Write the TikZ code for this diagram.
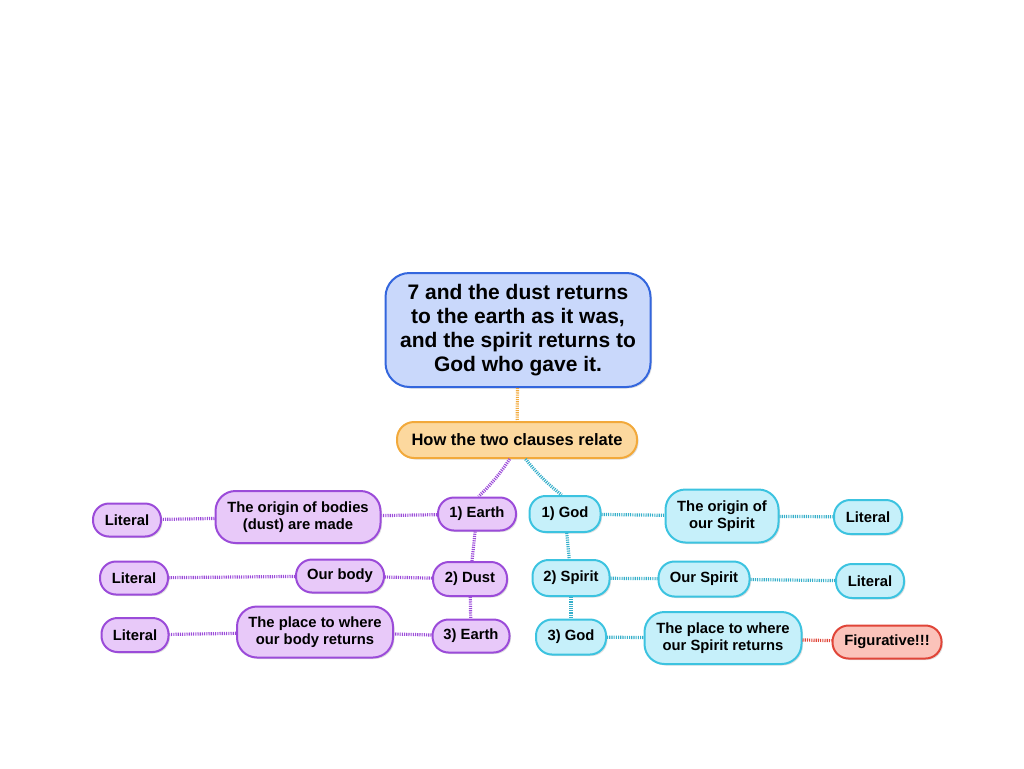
\documentclass[tikz,border=0pt]{standalone}
\usepackage{fontspec}
\setmainfont{Liberation Sans}
\usetikzlibrary{shadows}
\definecolor{tfill}{HTML}{C9D8FB}
\definecolor{tline}{HTML}{3366DD}
\definecolor{ofill}{HTML}{FCD89E}
\definecolor{oline}{HTML}{F2A93B}
\definecolor{pfill}{HTML}{E8C9F9}
\definecolor{pline}{HTML}{9B4BD9}
\definecolor{cfill}{HTML}{C6F0FA}
\definecolor{cline}{HTML}{3CC3E0}
\definecolor{rfill}{HTML}{FBC3BA}
\definecolor{rline}{HTML}{E04538}
\tikzset{
  box/.style={draw, line width=2pt, rounded corners=16pt, inner sep=0pt, align=center,
    font=\fontsize{14.8}{17}\selectfont\bfseries,
    drop shadow={opacity=0.25, shadow xshift=1.5pt, shadow yshift=-1.5pt}},
  pbox/.style={box, fill=pfill, draw=pline},
  cbox/.style={box, fill=cfill, draw=cline},
  rbox/.style={box, fill=rfill, draw=rline},
  conn/.style={line width=3.2pt, dash pattern=on 1.1pt off 1.1pt},
  pconn/.style={conn, draw=pline},
  cconn/.style={conn, draw=cline!90!black},
}
\begin{document}
\begin{tikzpicture}[x=1pt,y=-1pt]
\useasboundingbox (0,0) rectangle (1024,768);
% title and relation
\node[box, fill=tfill, draw=tline, rounded corners=24pt, minimum width=265pt, minimum height=114pt,
  font=\fontsize{21}{24}\selectfont\bfseries] (title) at (518,330)
  {7 and the dust returns\\to the earth as it was,\\and the spirit returns to\\God who gave it.};
\node[box, fill=ofill, draw=oline, rounded corners=17pt, minimum width=240pt, minimum height=36pt,
  font=\fontsize{16.5}{19}\selectfont\bfseries] (how) at (517,440) {How the two clauses relate};
% left branch
\node[pbox, minimum width=78pt, minimum height=33pt] (e1) at (477,514) {1) Earth};
\node[pbox, minimum width=165pt, minimum height=52pt, rounded corners=20pt] (o1) at (298,517) {The origin of bodies\\(dust) are made};
\node[pbox, minimum width=68pt, minimum height=33pt] (l1) at (127,520) {Literal};
\node[pbox, minimum width=74pt, minimum height=34pt] (d2) at (470,579) {2) Dust};
\node[pbox, minimum width=88pt, minimum height=33pt] (o2) at (340,576) {Our body};
\node[pbox, minimum width=68pt, minimum height=33pt] (l2) at (134,578) {Literal};
\node[pbox, minimum width=77pt, minimum height=33pt] (e3) at (471,636) {3) Earth};
\node[pbox, minimum width=156pt, minimum height=51pt, rounded corners=20pt] (o3) at (315,632) {The place to where\\our body returns};
\node[pbox, minimum width=67pt, minimum height=34pt] (l3) at (135,635) {Literal};
% right branch
\node[cbox, minimum width=71pt, minimum height=36pt] (g1) at (565,514) {1) God};
\node[cbox, minimum width=113pt, minimum height=53pt, rounded corners=20pt] (s1) at (722,516) {The origin of\\our Spirit};
\node[cbox, minimum width=68pt, minimum height=34pt] (r1) at (868,517) {Literal};
\node[cbox, minimum width=77pt, minimum height=36pt] (s2) at (571,578) {2) Spirit};
\node[cbox, minimum width=91pt, minimum height=35pt] (os2) at (704,579) {Our Spirit};
\node[cbox, minimum width=68pt, minimum height=34pt] (r2) at (870,581) {Literal};
\node[cbox, minimum width=70pt, minimum height=35pt] (g3) at (571,637) {3) God};
\node[cbox, minimum width=157pt, minimum height=52pt, rounded corners=20pt] (s3) at (723,638) {The place to where\\our Spirit returns};
\node[rbox, minimum width=109pt, minimum height=33pt] (fig) at (887,642) {Figurative!!!};
% connectors
\draw[conn, draw=oline] (title) -- (how);
\draw[pconn] (how.249) to[bend left=6] (e1.85);
\draw[cconn] (how.294) to[bend right=6] (g1.100);
\draw[pconn] (e1) -- (d2);
\draw[pconn] (d2) -- (e3);
\draw[pconn] (e1) -- (o1);
\draw[pconn] (o1) -- (l1);
\draw[pconn] (d2) -- (o2);
\draw[pconn] (o2) -- (l2);
\draw[pconn] (e3) -- (o3);
\draw[pconn] (o3) -- (l3);
\draw[cconn] (g1) -- (s2);
\draw[cconn] (s2) -- (g3);
\draw[cconn] (g1) -- (s1);
\draw[cconn] (s1) -- (r1);
\draw[cconn] (s2) -- (os2);
\draw[cconn] (os2) -- (r2);
\draw[cconn] (g3) -- (s3);
\draw[conn, draw=rline] (s3) -- (fig);
\end{tikzpicture}
\end{document}
